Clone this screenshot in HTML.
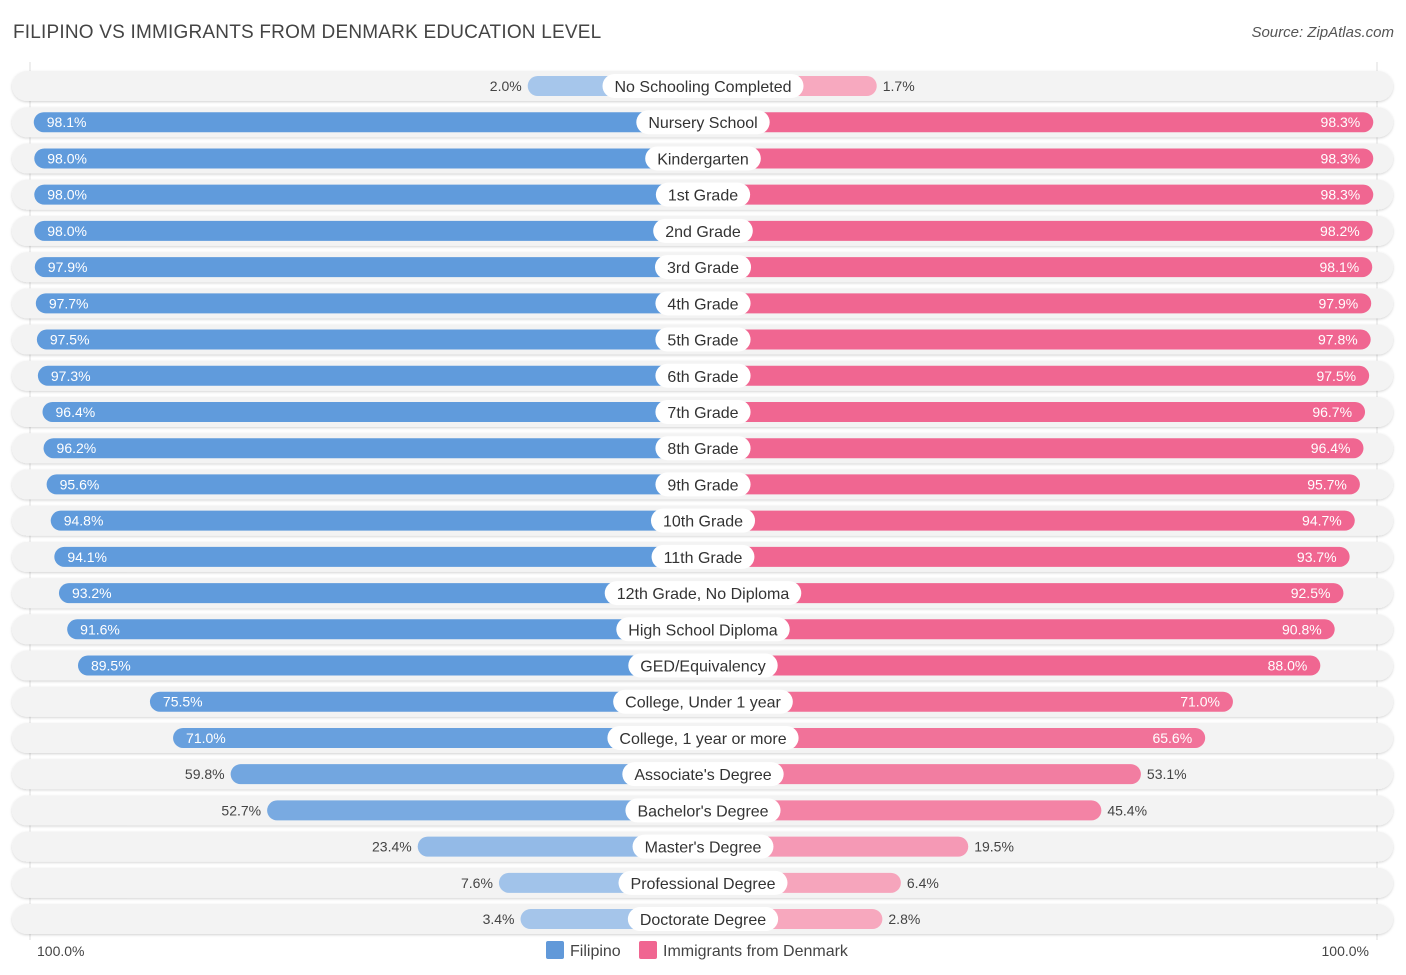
<!DOCTYPE html>
<html><head><meta charset="utf-8"><style>
body{margin:0;background:#fff;font-family:"Liberation Sans",sans-serif;}
#title{position:absolute;left:13px;top:22px;font-size:19px;color:#444;letter-spacing:0.2px}
#source{position:absolute;right:12px;top:24px;font-size:15px;color:#555;font-style:italic}
</style></head><body>
<div id="title">FILIPINO VS IMMIGRANTS FROM DENMARK EDUCATION LEVEL</div>
<div id="source">Source: ZipAtlas.com</div>
<svg id="chart" width="1406" height="975" style="position:absolute;left:0;top:0"></svg>
<script>
const categories=["No Schooling Completed","Nursery School","Kindergarten","1st Grade","2nd Grade","3rd Grade","4th Grade","5th Grade","6th Grade","7th Grade","8th Grade","9th Grade","10th Grade","11th Grade","12th Grade, No Diploma","High School Diploma","GED/Equivalency","College, Under 1 year","College, 1 year or more","Associate's Degree","Bachelor's Degree","Master's Degree","Professional Degree","Doctorate Degree"];
const filipino=[2.0,98.1,98.0,98.0,98.0,97.9,97.7,97.5,97.3,96.4,96.2,95.6,94.8,94.1,93.2,91.6,89.5,75.5,71.0,59.8,52.7,23.4,7.6,3.4];
const denmark=[1.7,98.3,98.3,98.3,98.2,98.1,97.9,97.8,97.5,96.7,96.4,95.7,94.7,93.7,92.5,90.8,88.0,71.0,65.6,53.1,45.4,19.5,6.4,2.8];
const axisLabels=["100.0%","100.0%"];
const NS="http://www.w3.org/2000/svg";
const svg=document.getElementById('chart');
const cx=703, y0=86, dy=36.22;
function len(v){return 165+5.14*v;}
function rowY(i){return y0+i*dy;}
function mix(a,b,t){return 'rgb('+a.map((x,k)=>Math.round(x+(b[k]-x)*t)).join(',')+')';}
function blue(v){return mix([168,199,235],[96,155,220],Math.min(1,v/80));}
function pink(v){return mix([247,170,192],[240,102,145],Math.min(1,v/80));}
function el(tag,attrs,parent){const e=document.createElementNS(NS,tag);for(const k in attrs)e.setAttribute(k,attrs[k]);(parent||svg).appendChild(e);return e;}
const defs=el('defs',{});
const f=el('filter',{id:'sh',x:'-5%',y:'-30%',width:'110%',height:'160%'},defs);
el('feDropShadow',{dx:0,dy:1,stdDeviation:1.2,'flood-color':'#000','flood-opacity':0.18},f);
el('line',{x1:30,y1:62,x2:30,y2:940,stroke:'#ddd','stroke-width':1});
el('line',{x1:1377,y1:62,x2:1377,y2:940,stroke:'#ddd','stroke-width':1});
categories.forEach((c,i)=>{
  const y=rowY(i);
  const g=el('g',{});
  
  
  const bg=el('rect',{x:12,y:y-15,width:1381,height:30,rx:15,fill:'#f3f3f3',filter:'url(#sh)'},g);
  
  
  const lv=filipino[i], rv=denmark[i];
  const lw=len(lv), rw=len(rv);
  const lb=el('rect',{x:cx-lw,y:y-10,width:lw,height:20,rx:10,fill:blue(lv)},g);
  
  
  const rb=el('rect',{x:cx,y:y-10,width:rw,height:20,rx:10,fill:pink(rv)},g);
  
  
  const inL=lv>=65, inR=rv>=65;
  const lt=el('text',{x:inL?cx-lw+13:cx-lw-6,y:y+5,'font-size':14,fill:inL?'#fff':'#444','text-anchor':inL?'start':'end'},g);
  lt.textContent=lv.toFixed(1)+'%';
  
  
  const rt=el('text',{x:inR?cx+rw-13:cx+rw+6,y:y+5,'font-size':14,fill:inR?'#fff':'#444','text-anchor':inR?'end':'start'},g);
  rt.textContent=rv.toFixed(1)+'%';
  
  
  const lab=el('text',{x:cx,y:y+6,'font-size':16,fill:'#333','text-anchor':'middle'},g);
  lab.textContent=c;
  const w=lab.getComputedTextLength()+24;
  const pill=el('rect',{x:cx-w/2,y:y-12,width:w,height:24,rx:12,fill:'#fff'},g);
  g.insertBefore(pill,lab);
  
  
  
  
});
const a1=el('text',{x:37,y:956,'font-size':14,fill:'#444'});a1.textContent=axisLabels[0];


const a2=el('text',{x:1369,y:956,'font-size':14,fill:'#444','text-anchor':'end'});a2.textContent=axisLabels[1];


const s1=el('rect',{x:546,y:941,width:18,height:18,rx:2,fill:'#6199d9'});


const t1=el('text',{x:570,y:956,'font-size':16,fill:'#444'});t1.textContent='Filipino';


const s2=el('rect',{x:639,y:941,width:18,height:18,rx:2,fill:'#f06691'});


const t2=el('text',{x:663,y:956,'font-size':16,fill:'#444'});t2.textContent='Immigrants from Denmark';


</script>
</body></html>
